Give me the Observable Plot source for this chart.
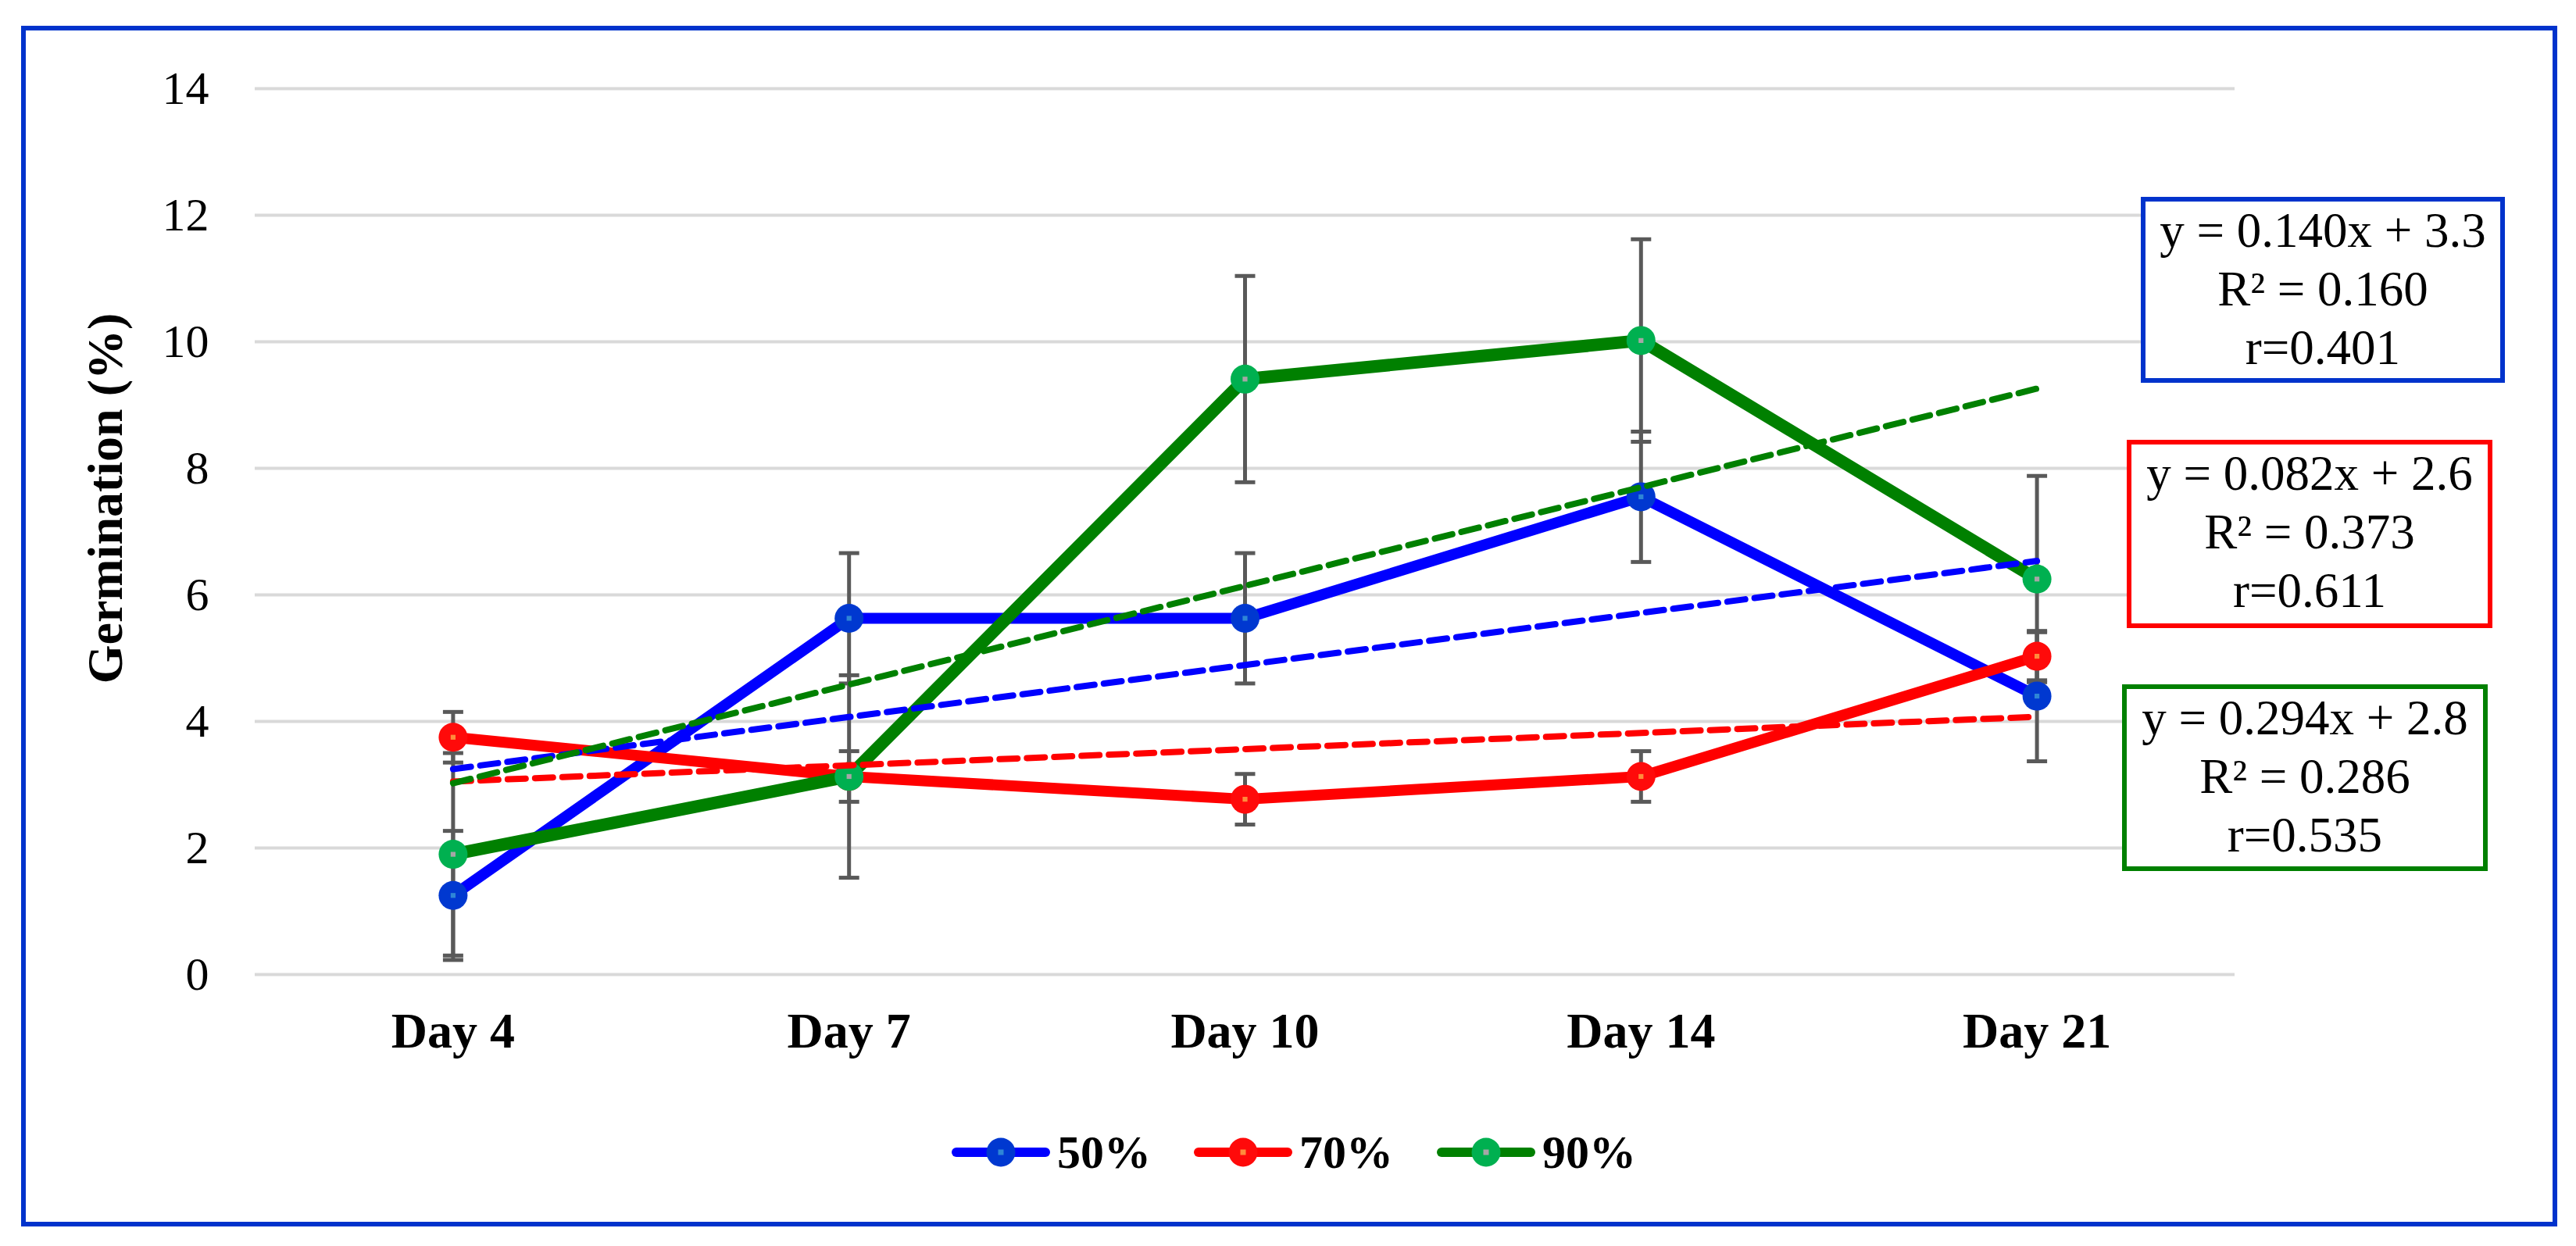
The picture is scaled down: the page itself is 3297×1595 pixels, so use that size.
<!DOCTYPE html>
<html>
<head>
<meta charset="utf-8">
<script src="https://cdn.jsdelivr.net/npm/d3@7"></script>
<script src="https://cdn.jsdelivr.net/npm/@observablehq/plot@0.6"></script>
<style>
  html, body { margin: 0; padding: 0; background: #fff; }
  body { width: 3297px; height: 1595px; position: relative; overflow: hidden;
         font-family: "Liberation Serif", "Times New Roman", serif; }
  #frame { position: absolute; left: 27px; top: 33px; width: 3246px; height: 1537px;
           border: 6px solid #0033CC; box-sizing: border-box; }
  #chart { position: absolute; left: 0; top: 0; }
  #ytitle { position: absolute; left: 135px; top: 638px; transform: translate(-50%, -50%) rotate(-90deg);
            white-space: nowrap; font-weight: bold; font-size: 64px; color: #000; }
  .eqbox { position: absolute; box-sizing: border-box; border: 6px solid; background: #fff;
           text-align: center; font-size: 63px; line-height: 75px; color: #000; white-space: nowrap; }
  .leg { position: absolute; top: 1445px; height: 60px; display: flex; align-items: center; }
  .leg span { font-weight: bold; font-size: 60px; margin-left: 9px; color: #000; line-height: 60px; }
</style>
</head>
<body>
<div id="frame"></div>
<div id="chart"></div>
<div id="ytitle">Germination (%)</div>
<div id="boxes"></div>
<div id="legend"></div>
<script>
// ---- data ----
const days = ["Day 4", "Day 7", "Day 10", "Day 14", "Day 21"];
const yTicks = [0, 2, 4, 6, 8, 10, 12, 14];
const seriesNames = ["50%", "70%", "90%"];
const g50 = [1.25, 5.63, 5.63, 7.55, 4.40];
const g70 = [3.75, 3.13, 2.77, 3.13, 5.03];
const g90 = [1.90, 3.13, 9.41, 10.02, 6.25];
const e50 = [1.02, 1.03, 1.03, 1.03, 1.03];
const e70 = [0.40, 0.40, 0.40, 0.40, 0.38];
const e90 = [1.60, 1.60, 1.63, 1.60, 1.63];
const eqLines = [
  ["y = 0.140x + 3.3", "R\u00B2 = 0.160", "r=0.401"],
  ["y = 0.082x + 2.6", "R\u00B2 = 0.373", "r=0.611"],
  ["y = 0.294x + 2.8", "R\u00B2 = 0.286", "r=0.535"]
];

// ---- styles ----
const lineColors = ["#0000FF", "#FF0000", "#008000"];
const lineWidths = [14, 14, 16];
const markerFill = ["#0038D0", "#FF0A0A", "#00B050"];
const markerCore = ["#2E86D6", "#FF8C3C", "#A6A6A6"];
const boxColors = ["#0033CC", "#FF0000", "#008000"];
const boxPos = [
  {left: 2740, top: 252, width: 466, height: 238},
  {left: 2722, top: 563, width: 468, height: 241},
  {left: 2716, top: 876, width: 468, height: 239}
];
const legendLeft = [1218, 1528, 1839];

const values = [g50, g70, g90];
const errs = [e50, e70, e90];
const rows = values.map((vals, s) => vals.map((v, i) => ({
  s, x: i + 1, y: v, lo: v - errs[s][i], hi: v + errs[s][i]
})));
const allRows = rows.flat();

const capSymbol = {
  draw(context, size) {
    const r = Math.sqrt(size / Math.PI);
    context.moveTo(-r, 0);
    context.lineTo(r, 0);
  }
};

const serif = "'Liberation Serif', 'Times New Roman', serif";

const marks = [
  Plot.ruleY(yTicks, {y: d => d, stroke: "#D9D9D9", strokeWidth: 4}),
  Plot.text(yTicks, {y: d => d, text: d => String(d), frameAnchor: "left", dx: -59,
    textAnchor: "end", lineAnchor: "middle", fontSize: 60, fill: "#000"}),
  Plot.text(days, {x: (d, i) => i + 1, text: d => d, frameAnchor: "bottom", dy: 73,
    lineAnchor: "middle", fontSize: 64, fontWeight: "bold", fill: "#000"}),
  // error bars
  Plot.ruleX(allRows, {x: "x", y1: "lo", y2: "hi", stroke: "#595959", strokeWidth: 5}),
  Plot.dot(allRows, {x: "x", y: "lo", symbol: capSymbol, r: 13, stroke: "#595959", strokeWidth: 5, fill: "none"}),
  Plot.dot(allRows, {x: "x", y: "hi", symbol: capSymbol, r: 13, stroke: "#595959", strokeWidth: 5, fill: "none"})
];
rows.forEach((r, s) => {
  marks.push(Plot.line(r, {x: "x", y: "y", stroke: lineColors[s], strokeWidth: lineWidths[s], strokeLinejoin: "round"}));
  marks.push(Plot.dot(r, {x: "x", y: "y", r: 18.5, fill: markerFill[s], stroke: "none"}));
  marks.push(Plot.dot(r, {x: "x", y: "y", r: 3.5, symbol: "square", fill: markerCore[s], stroke: "none"}));
});
rows.forEach((r, s) => {
  marks.push(Plot.linearRegressionY(r, {x: "x", y: "y", stroke: lineColors[s], ci: 0,
    strokeWidth: 8, strokeDasharray: "23,12"}));
});

const chart = Plot.plot({
  width: 3297,
  height: 1400,
  marginLeft: 326,
  marginRight: 437,
  marginTop: 113,
  marginBottom: 153,
  x: {domain: [0.5, 5.5], axis: null},
  y: {domain: [0, 14], axis: null},
  style: {fontFamily: serif, background: "transparent", overflow: "visible"},
  marks
});
document.getElementById("chart").appendChild(chart);

// equation boxes
const boxes = document.getElementById("boxes");
eqLines.forEach((lines, s) => {
  const d = document.createElement("div");
  d.className = "eqbox";
  const p = boxPos[s];
  Object.assign(d.style, {left: p.left + "px", top: p.top + "px", width: p.width + "px",
    height: p.height + "px", borderColor: boxColors[s]});
  d.innerHTML = lines.map(t => "<div>" + t + "</div>").join("");
  boxes.appendChild(d);
});

// legend
const legend = document.getElementById("legend");
seriesNames.forEach((name, s) => {
  const item = document.createElement("div");
  item.className = "leg";
  item.style.left = legendLeft[s] + "px";
  const ns = "http://www.w3.org/2000/svg";
  const svg = document.createElementNS(ns, "svg");
  svg.setAttribute("width", 126); svg.setAttribute("height", 40);
  const ln = document.createElementNS(ns, "line");
  Object.entries({x1: 6, x2: 120, y1: 20, y2: 20, stroke: lineColors[s], "stroke-width": 12,
    "stroke-linecap": "round"}).forEach(([k, v]) => ln.setAttribute(k, v));
  const c = document.createElementNS(ns, "circle");
  Object.entries({cx: 63, cy: 20, r: 18.5, fill: markerFill[s]}).forEach(([k, v]) => c.setAttribute(k, v));
  const core = document.createElementNS(ns, "rect");
  Object.entries({x: 59.5, y: 16.5, width: 7, height: 7, fill: markerCore[s]}).forEach(([k, v]) => core.setAttribute(k, v));
  svg.append(ln, c, core);
  const t = document.createElement("span");
  t.textContent = name;
  item.append(svg, t);
  legend.appendChild(item);
});
</script>
</body>
</html>
